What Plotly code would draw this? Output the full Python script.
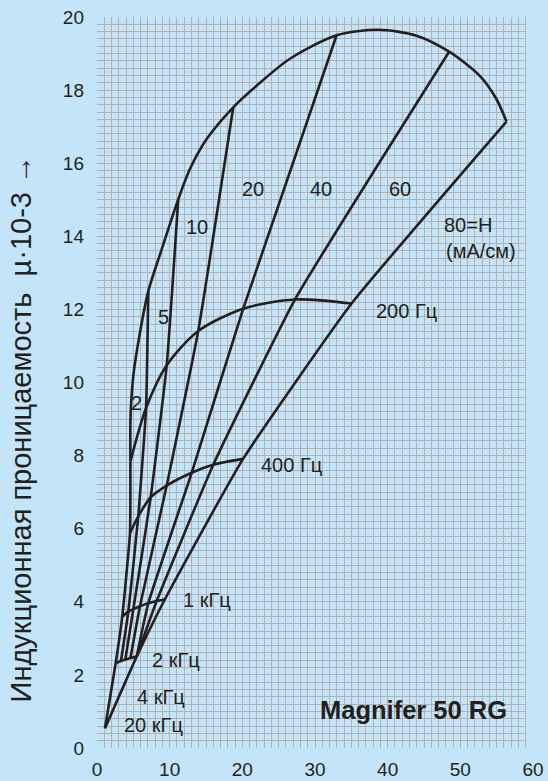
import plotly.graph_objects as go

# Field strength H (mA/cm) for each constant-H line
h_values = [2, 5, 10, 20, 40, 60, 80]

# Crossing points of every H line with the frequency curves
f200_x = [4.6, 6.75, 9.59, 13.93, 20.12, 27.24, 35.03]
f200_y = [7.84, 9.3, 10.47, 11.41, 12.02, 12.27, 12.16]
f400_x = [4.54, 5.68, 7.39, 9.59, 13.03, 16.0, 20.1]
f400_y = [5.88, 6.34, 6.86, 7.18, 7.53, 7.75, 7.91]
f1k_x = [3.48, 4.31, 5.0, 5.91, 7.06, 8.21, 9.35]
f1k_y = [3.60, 3.73, 3.80, 3.88, 3.96, 4.02, 4.07]
f2k_x = [2.57, 3.3, 3.9, 4.6, 5.46, 5.46, 5.46]
f2k_y = [2.32, 2.38, 2.42, 2.46, 2.50, 2.50, 2.50]

# Upper ends of the H lines on the static curve
top_x = [4.6, 7.06, 11.18, 18.75, 32.97, 48.46, 56.35]
top_y = [7.84, 12.5, 15.01, 17.53, 19.5, 19.05, 17.14]

# 20 kHz point where the outer lines meet
apex_x = 1.10
apex_y = 0.54

# Static (envelope) curve
env_x = [4.6, 4.62, 4.99, 5.91, 7.06, 8.9, 11.18, 12.79, 15.09, 18.75, 21.97,
         26.5, 32.97, 38.7, 43.97, 48.46, 52.68, 54.98, 56.35]
env_y = [7.84, 9.08, 10.17, 11.36, 12.5, 13.64, 15.01, 15.84, 16.66, 17.53, 18.12,
         18.85, 19.5, 19.65, 19.49, 19.05, 18.39, 17.75, 17.14]

x_ticks = [0, 10, 20, 30, 40, 50, 60]
y_ticks = [0, 2, 4, 6, 8, 10, 12, 14, 16, 18, 20]

BG = "#c4e5f9"
GRID = "#b3b1b1"
INK = "#231f20"
FONT = "Liberation Sans, Arial, sans-serif"

fig = go.Figure()

line_style = dict(color=INK, width=2.6)


def add_curve(xs, ys, smooth=0.6):
    fig.add_trace(go.Scatter(x=xs, y=ys, mode="lines",
                             line=dict(shape="spline", smoothing=smooth, **line_style),
                             hoverinfo="skip", showlegend=False))


# constant-H lines
for i, h in enumerate(h_values):
    xs = [top_x[i], f200_x[i], f400_x[i], f1k_x[i], f2k_x[i]]
    ys = [top_y[i], f200_y[i], f400_y[i], f1k_y[i], f2k_y[i]]
    if h in (2, 80):
        xs.append(apex_x)
        ys.append(apex_y)
    # drop repeated points at the start of the H=2 line
    pts = []
    for x, y in zip(xs, ys):
        if not pts or (x, y) != pts[-1]:
            pts.append((x, y))
    add_curve([p[0] for p in pts], [p[1] for p in pts], smooth=0.4)

# frequency curves
add_curve(f200_x, f200_y, 0.8)
add_curve(f400_x, f400_y, 0.8)
add_curve(f1k_x, f1k_y, 0.6)
add_curve(f2k_x[:5], f2k_y[:5], 0.6)

# static envelope
add_curve(env_x, env_y, 0.8)

labels = [
    ("2", 5.5, 9.45), ("5", 9.1, 11.78), ("10", 13.8, 14.25),
    ("20", 21.4, 15.29), ("40", 30.8, 15.29), ("60", 41.7, 15.29),
    ("80=H", 51.0, 14.3), ("(мА/см)", 52.9, 13.6),
    ("200 Гц", 42.6, 11.97), ("400 Гц", 26.7, 7.73),
    ("1 кГц", 15.1, 4.05), ("2 кГц", 10.9, 2.41),
    ("4 кГц", 8.8, 1.40), ("20 кГц", 7.8, 0.63),
]
annotations = [dict(x=x, y=y, text=t, showarrow=False, xref="x", yref="y",
                    font=dict(family=FONT, size=20, color=INK))
               for t, x, y in labels]
annotations.append(dict(x=43.6, y=1.04, text="<b>Magnifer 50 RG</b>", showarrow=False,
                        xref="x", yref="y", font=dict(family=FONT, size=25.5, color=INK)))
annotations.append(dict(x=-0.174, y=0.436, xref="paper", yref="paper", textangle=-90,
                        xanchor="center", yanchor="middle",
                        text="Индукционная проницаемость  µ·10-3 →", showarrow=False,
                        font=dict(family=FONT, size=29, color=INK)))

fig.update_layout(
    template="none",
    width=548, height=781,
    margin=dict(l=97, r=15, t=17, b=33, pad=0),
    paper_bgcolor=BG, plot_bgcolor=BG,
    showlegend=False,
    annotations=annotations,
    shapes=[dict(type="rect", xref="x", yref="y", x0=59.06, x1=60.5, y0=-0.5, y1=20.5,
                 fillcolor=BG, line=dict(width=0), layer="between")],
    xaxis=dict(range=[0, 60], tickvals=x_ticks, showgrid=True, gridcolor=GRID, gridwidth=1.3,
               minor=dict(dtick=1, showgrid=True, gridcolor=GRID, gridwidth=1.3),
               zeroline=False, showline=False, ticks="", ticklabelstandoff=8,
               automargin=False,
               tickfont=dict(family=FONT, size=19, color=INK), fixedrange=True),
    yaxis=dict(range=[0, 20], tickvals=y_ticks, showgrid=True, gridcolor=GRID, gridwidth=1.3,
               minor=dict(dtick=0.2, showgrid=True, gridcolor=GRID, gridwidth=1.3),
               zeroline=False, showline=False, ticks="", ticklabelstandoff=12,
               automargin=False,
               tickfont=dict(family=FONT, size=19, color=INK), fixedrange=True),
)

fig.write_html("out.html")
